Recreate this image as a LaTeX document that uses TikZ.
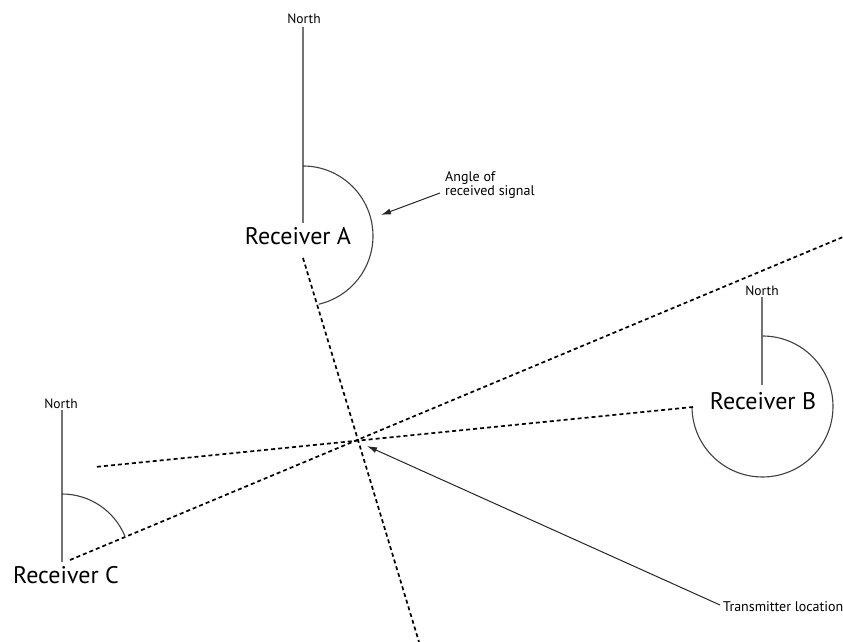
\documentclass[tikz,border=0pt]{standalone}
\usepackage{fontspec}
\setmainfont{PT Sans}
\usetikzlibrary{arrows.meta}
\begin{document}
\begin{tikzpicture}[x=1pt,y=1pt,
  northline/.style={draw=black!55, line width=1.3pt},
  anglearc/.style={draw=black!75, line width=1.1pt},
  bearing/.style={draw=black, line width=1.7pt, dash pattern=on 4pt off 3pt},
  pointer/.style={draw=black!85, line width=1pt, -{Latex[length=10pt,width=6pt]}},
  rxlabel/.style={font=\fontsize{24}{28}\selectfont, inner sep=1pt},
  northlabel/.style={font=\fontsize{13.5}{15}\selectfont, inner sep=1pt},
  notelabel/.style={font=\fontsize{14}{16}\selectfont, inner sep=1pt, align=left, anchor=west}]
\useasboundingbox (0,0) rectangle (843,642);
\fill[white] (0,0) rectangle (843,642);

% receivers
\node[rxlabel] (rxA) at (298,406) {Receiver A};
\node[rxlabel] (rxB) at (763,241) {Receiver B};
\node[rxlabel] (rxC) at (66,67) {Receiver C};

% north references
\node[northlabel] (nA) at (304,623) {North};
\node[northlabel] (nB) at (762,351) {North};
\node[northlabel] (nC) at (61,238) {North};
\coordinate (nAtop) at (303,615);
\coordinate (nAbot) at (303,419);
\coordinate (nBtop) at (762,345);
\coordinate (nBbot) at (762,257);
\coordinate (nCtop) at (62,232);
\coordinate (nCbot) at (62,80);
\draw[northline] (nAtop) -- (nAbot);
\draw[northline] (nBtop) -- (nBbot);
\draw[northline] (nCtop) -- (nCbot);

% measured bearing angles
\draw[anglearc] (303,476) arc[start angle=90, end angle=-77, radius=70];
\draw[anglearc] (762.5,306) arc[start angle=90, end angle=-179, radius=70.5];
\draw[anglearc] (62,148) arc[start angle=90, end angle=22.4, radius=68];

% bearing lines
\coordinate (fix) at (358,202);
\coordinate (aS) at (303,384);
\coordinate (aE) at (419,0);
\coordinate (bS) at (693,235);
\coordinate (bE) at (95,175);
\coordinate (cS) at (70,82);
\coordinate (cE) at (843,405);
\draw[bearing] (aS) -- (aE);
\draw[bearing] (bS) -- (bE);
\draw[bearing] (cS) -- (cE);

% annotations
\node[notelabel] (angleNote) at (444,457) {Angle of\\[-2pt]received signal};
\coordinate (angTail) at (440,449);
\coordinate (angTip) at (381,427);
\draw[pointer] (angTail) -- (angTip);

\node[notelabel] (txNote) at (722,35) {Transmitter location};
\coordinate (txTail) at (720,37);
\coordinate (txTip) at (367,196);
\draw[pointer] (txTail) -- (txTip);
\end{tikzpicture}
\end{document}
